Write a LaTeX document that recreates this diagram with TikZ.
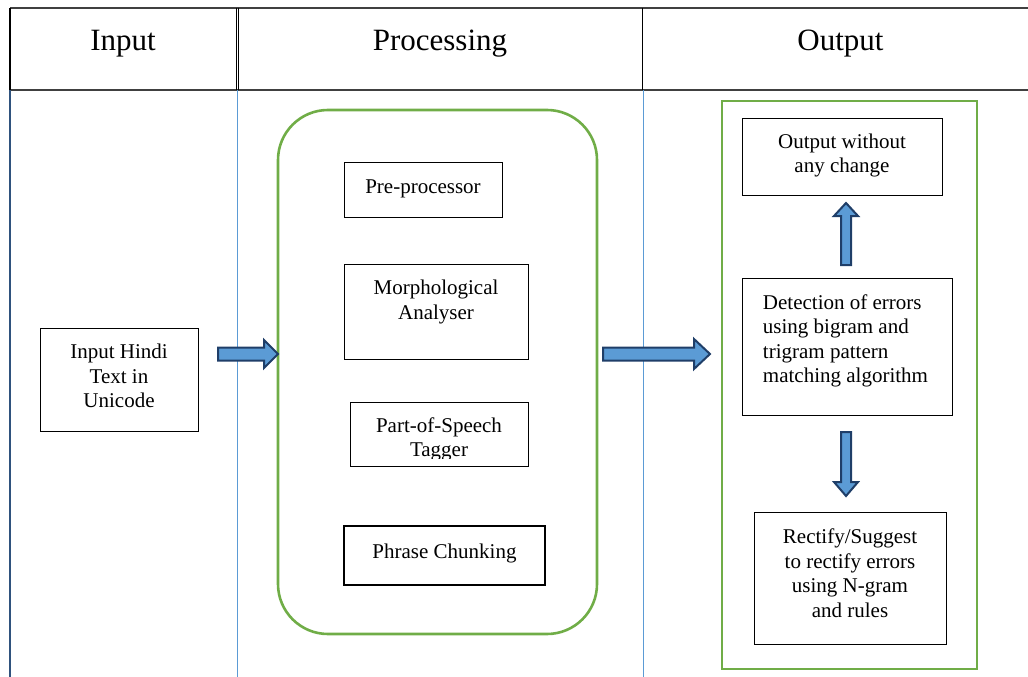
\documentclass[tikz,border=0pt]{standalone}
\usepackage{fontspec}
\setmainfont{Liberation Serif}
\usetikzlibrary{calc}

\definecolor{frame}{RGB}{112,173,71}
\definecolor{arrowfill}{RGB}{91,155,213}
\definecolor{arrowline}{RGB}{31,62,104}
\definecolor{rule}{RGB}{64,64,64}
\definecolor{colrule}{RGB}{91,155,213}
\definecolor{edgerule}{RGB}{47,82,125}

% block arrow: start, end, shaft half-width, head half-width, head length
\newcommand\blockarrow[5]{%
  \path (#1) coordinate (ba-s) (#2) coordinate (ba-e);
  \coordinate (ba-h) at ($(ba-e)!#5!(ba-s)$);
  \draw[blockarrow]
    ($(ba-s)!#3!90:(ba-e)$) -- ($(ba-h)!#3!-90:(ba-s)$) --
    ($(ba-h)!#4!-90:(ba-s)$) -- (ba-e) --
    ($(ba-h)!#4!90:(ba-s)$) -- ($(ba-h)!#3!90:(ba-s)$) --
    ($(ba-s)!#3!-90:(ba-e)$) -- cycle;}

\tikzset{
  headtext/.style={font=\fontsize{31}{36}\selectfont, anchor=base},
  box/.style={draw=black, line width=1pt, inner sep=0pt},
  boxtext/.style={inner sep=0pt, align=center, font=\fontsize{21}{24.5}\selectfont},
  plaintext/.style={font=\fontsize{21}{24.5}\selectfont, anchor=base, inner sep=0pt},
  blockarrow/.style={fill=arrowfill, draw=arrowline, line width=2pt, line join=miter},
  greenframe/.style={draw=frame, line width=2.6pt},
}

\begin{document}
\begin{tikzpicture}[x=1pt, y=-1pt]
\useasboundingbox (0,0) rectangle (1028,677);

% table rules
\draw[rule, line width=1.6pt] (10,8) -- (1028,8);
\draw[rule, line width=1.6pt] (10,90) -- (1028,90);
\draw[black, line width=1.4pt] (10,8) -- (10,90);
\draw[edgerule, line width=2.4pt] (10,90) -- (10,677);
\draw[black, line width=0.8pt] (236.2,8) -- (236.2,90);
\draw[black, line width=0.8pt] (238.4,8) -- (238.4,90);
\draw[black, line width=1pt] (642.5,8) -- (642.5,90);
\draw[colrule, line width=1pt] (237.5,90) -- (237.5,677);
\draw[colrule, line width=1pt] (643,90) -- (643,677);

% column headings
\node[headtext] (hin)  at (123,50.5)   {Input};
\node[headtext] (hpro) at (440,50.5)   {Processing};
\node[headtext] (hout) at (840.5,50.5) {Output};

% input column
\node[box, minimum width=158pt, minimum height=103pt] (in) at (119,379.5) {};
\node[boxtext] (intext) at ([yshift=3.5pt]in.center) {Input Hindi\\Text in\\Unicode};

% processing column
\draw[greenframe, rounded corners=50pt] (278,110) rectangle (597,634);
\coordinate (proc-west) at (278,354);

\node[box, minimum width=158pt, minimum height=55pt] (pre) at (423,189.5) {};
\node[boxtext] (pretext) at ([yshift=1pt]pre.center) {Pre-processor};
\node[box, minimum width=184pt, minimum height=95pt] (morph) at (436,311.5) {};
\node[boxtext] (morphtext) at ([yshift=9.5pt]morph.center) {Morphological\\Analyser};
\node[box, minimum width=178pt, minimum height=64pt] (pos) at (439,434) {};
\begin{scope}
  \clip (350,402) rectangle (528,458);
  \node[plaintext] (posa) at (439,432)   {Part-of-Speech};
  \node[plaintext] (posb) at (439,456.5) {Tagger};
\end{scope}
\node[box, line width=2.2pt, minimum width=201pt, minimum height=59pt] (chunk) at (444.5,555.5) {};
\node[boxtext] (chunktext) at ([yshift=2pt]chunk.center) {Phrase Chunking};

% output column
\draw[greenframe] (722,101) rectangle (977,669);
\coordinate (outframe-west) at (710,354);

\node[box, minimum width=200pt, minimum height=77pt] (same) at (842,156.5) {};
\node[boxtext] (sametext) at ([yshift=1pt]same.center) {Output without\\any change};
\node[box, minimum width=210pt, minimum height=137pt] (detect) at (847,346.5) {};
\node[boxtext, align=left] (detecttext) at ([xshift=-1.5pt, yshift=5.5pt]detect.center)
  {Detection of errors\\using bigram and\\trigram pattern\\matching algorithm};
\node[box, minimum width=192pt, minimum height=132pt] (fix) at (850,578) {};
\node[boxtext] (fixtext) at ([yshift=5pt]fix.center)
  {Rectify/Suggest\\to rectify errors\\using N-gram\\and rules};

% block arrows between the stages
\coordinate (a1s) at (218,354);
\blockarrow{a1s}{proc-west}{6.5pt}{14pt}{14pt}
\coordinate (a2s) at (603,354);
\blockarrow{a2s}{outframe-west}{6.5pt}{15pt}{16pt}
\coordinate (a3s) at (846,265);
\coordinate (a3e) at (846,203);
\blockarrow{a3s}{a3e}{5pt}{12pt}{13pt}
\coordinate (a4s) at (846,432);
\coordinate (a4e) at (846,496);
\blockarrow{a4s}{a4e}{5pt}{12pt}{14pt}
\end{tikzpicture}
\end{document}
